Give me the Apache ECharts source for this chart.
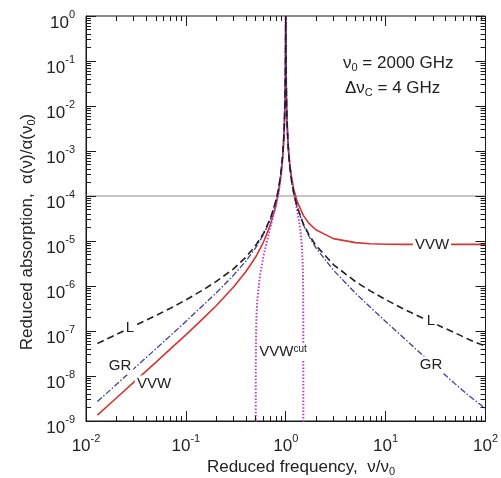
<!DOCTYPE html>
<html><head><meta charset="utf-8">
<script src="https://cdn.jsdelivr.net/npm/echarts@6/dist/echarts.min.js"></script>
<style>html,body{margin:0;padding:0;background:#fff}#c{width:501px;height:478px}</style>
</head><body><div id="c"></div>
<script>
// Reduced frequency samples (nu/nu0)
const freq = [0.013,0.02,0.03,0.05,0.07,0.1,0.15,0.2,0.3,0.4,0.5,0.6,0.7,0.8,0.85,0.9,0.93,0.95,0.97,0.98,0.99,0.995,0.998,0.999,1,1.001,1.002,1.005,1.01,1.02,1.03,1.05,1.07,1.1,1.15,1.2,1.3,1.5,1.7,2,3,5,7,10,15,20,30,50,70,100];
// L (Lorentz), black dashed
const lorentz = [5.3e-8,8.3e-8,1.28e-7,2.2e-7,3.2e-7,4.9e-7,8.3e-7,1.25e-6,2.4e-6,4.4e-6,8e-6,1.5e-5,3.1e-5,8e-5,1.5e-4,3.6e-4,7.6e-4,1.5e-3,4.3e-3,9.7e-3,0.038,0.137,0.5,0.8,1,0.8,0.5,0.139,0.039,0.0101,4.6e-3,1.68e-3,8.7e-4,4.4e-4,2.0e-4,1.2e-4,5.8e-5,2.4e-5,1.4e-5,8e-6,3e-6,1.25e-6,7.8e-7,5e-7,3.1e-7,2.3e-7,1.5e-7,9e-8,6.3e-8,4.6e-8];
// GR (Gross), blue dash-dot
const gross = [2.7e-9,6.4e-9,1.44e-8,4.0e-8,7.9e-8,1.63e-7,3.8e-7,6.9e-7,1.74e-6,3.6e-6,7.1e-6,1.4e-5,3.0e-5,7.9e-5,1.5e-4,3.6e-4,7.6e-4,1.5e-3,4.3e-3,9.7e-3,0.038,0.137,0.5,0.8,1,0.8,0.5,0.139,0.039,0.0101,4.55e-3,1.68e-3,8.7e-4,4.4e-4,2.0e-4,1.19e-4,5.7e-5,2.3e-5,1.29e-5,7.1e-6,2.25e-6,6.9e-7,3.4e-7,1.63e-7,7.2e-8,4.0e-8,1.8e-8,6.6e-9,3.5e-9,1.9e-9];
// VVW (Van Vleck - Weisskopf), red solid
const vvw = [1.35e-9,3.2e-9,7.2e-9,2.0e-8,4.0e-8,8.2e-8,1.93e-7,3.6e-7,9.5e-7,2.1e-6,4.4e-6,9.6e-6,2.25e-5,6.5e-5,1.29e-4,3.25e-4,7.1e-4,1.44e-3,4.2e-3,9.5e-3,0.0377,0.137,0.498,0.798,1,0.802,0.502,0.139,0.0392,0.0103,4.7e-3,1.76e-3,9.35e-4,4.85e-4,2.36e-4,1.45e-4,7.6e-5,3.7e-5,2.5e-5,1.78e-5,1.13e-5,9.2e-6,8.7e-6,8.5e-6,8.4e-6,8.4e-6,8.4e-6,8.4e-6,8.4e-6,8.4e-6];
// VVW with cut-off, magenta dotted
const cutFreq = [0.5,0.501,0.505,0.51,0.52,0.55,0.6,0.65,0.7,0.75,0.8,0.85,0.9,0.93,0.95,0.97,0.98,0.99,0.995,0.998,0.999,1,1.001,1.002,1.005,1.01,1.02,1.03,1.05,1.07,1.1,1.15,1.2,1.3,1.35,1.4,1.45,1.48,1.49,1.495,1.499,1.5];
const vvwCut = [1e-10,2e-8,1e-7,2.3e-7,5e-7,1.6e-6,4.8e-6,1.0e-5,2.0e-5,3.6e-5,6.2e-5,1.2e-4,3.1e-4,6.9e-4,1.42e-3,4.15e-3,9.5e-3,0.0377,0.137,0.498,0.798,1,0.802,0.502,0.139,0.0392,0.0103,4.7e-3,1.75e-3,9.2e-4,4.6e-4,2.15e-4,1.2e-4,4.8e-5,3.0e-5,1.75e-5,7.9e-6,3.0e-6,1.5e-6,7e-7,1.4e-7,1e-10];
const refLevel = 1e-4;
const xRange = [0.01, 100];
const yRange = [1e-9, 1];
const minorMultipliers = [2, 3, 4, 5, 6, 7, 8, 9];

const FONT = '"Liberation Sans", Arial, Helvetica, sans-serif';
const TXT = '#222';
const AX = '#1a1a1a';
const MAJOR_LEN = 10, MINOR_LEN = 5;
const GRID = { left: 86, right: 14, top: 16, bottom: 57 };
const W = 501, H = 478;
function pair(xs, ys) { return xs.map((x, i) => [x, ys[i]]); }
function expLabel(v) { return '{b|10}{s|' + Math.round(Math.log10(v)) + '}'; }
function decades(range) {
  const out = [];
  for (let e = Math.round(Math.log10(range[0])); e <= Math.round(Math.log10(range[1])); e++) out.push(Math.pow(10, e));
  return out;
}
function minorValues(range) {
  const out = [];
  const d = decades(range);
  for (let i = 0; i < d.length - 1; i++) minorMultipliers.forEach(k => out.push(k * d[i]));
  return out;
}

// frame tick segments (data units), tick length converted through the decade size of each axis
const xDecPx = (W - GRID.left - GRID.right) / Math.log10(xRange[1] / xRange[0]);
const yDecPx = (H - GRID.top - GRID.bottom) / Math.log10(yRange[1] / yRange[0]);
function tickSegments() {
  const segs = [];
  [[decades, MAJOR_LEN], [minorValues, MINOR_LEN]].forEach(([gen, len]) => {
    const fy = Math.pow(10, len / yDecPx), fx = Math.pow(10, len / xDecPx);
    gen(xRange).forEach(v => {
      segs.push({ coords: [[v, yRange[0]], [v, yRange[0] * fy]] });
      segs.push({ coords: [[v, yRange[1]], [v, yRange[1] / fy]] });
    });
    gen(yRange).forEach(v => {
      segs.push({ coords: [[xRange[0], v], [xRange[0] * fx, v]] });
      segs.push({ coords: [[xRange[1], v], [xRange[1] / fx, v]] });
    });
  });
  return segs;
}

function makeAxis(range, rich, margin) {
  return {
    type: 'log', min: range[0], max: range[1],
    axisLine: { show: true, lineStyle: { color: AX, width: 1 } },
    axisTick: { show: true, inside: true, length: MAJOR_LEN, lineStyle: { color: AX, width: 1 } },
    minorTick: { show: true, splitNumber: 9, length: MINOR_LEN, lineStyle: { color: AX, width: 1 } },
    splitLine: { show: true, lineStyle: { color: 'rgba(0,0,0,0)' } },
    axisLabel: { show: true, margin: margin, formatter: expLabel, color: TXT, fontFamily: FONT, fontSize: 17, rich: rich }
  };
}

const chart = echarts.init(document.getElementById('c'));
function txt(x, y, text, size, extra) {
  return Object.assign({
    type: 'text', x: x, y: y, z: 100,
    style: Object.assign({
      text: text, fontSize: size, fontFamily: FONT, fill: TXT,
      align: 'center', verticalAlign: 'middle',
      rich: {
        sub: { fontSize: Math.round(size * 0.65), fontFamily: FONT, fill: TXT, verticalAlign: 'bottom', padding: [10, 0, 0, 0] },
        sup: { fontSize: Math.round(size * 0.65), fontFamily: FONT, fill: TXT, verticalAlign: 'top', padding: [0, 0, 6, 0] }
      }
    }, extra || {})
  });
}
const bg = { backgroundColor: '#fff', padding: [1, 2] };
const texts = [
  txt(301, 467, 'Reduced frequency,  ν/ν{sub|0}', 17),
  Object.assign(txt(27, 232, 'Reduced absorption,  α(ν)/α(ν{sub|0})', 17), { rotation: Math.PI / 2 }),
  txt(343, 63, 'ν{sub|0} = 2000 GHz', 17, { align: 'left' }),
  txt(345, 88, 'Δν{sub|C} = 4 GHz', 17, { align: 'left' }),
  txt(130, 328, 'L', 15, bg),
  txt(120, 366, 'GR', 15, bg),
  txt(154, 384, 'VVW', 15, bg),
  txt(432, 245, 'VVW', 15, bg),
  txt(431, 321, 'L', 15, bg),
  txt(431, 365, 'GR', 15, bg),
  txt(283, 352, 'VVW{sup|cut}', 15, bg)
];

let errMsg = '';
try {
  chart.setOption({
    animation: false,
    grid: Object.assign({ show: true, borderColor: AX, borderWidth: 1, backgroundColor: 'rgba(0,0,0,0)' }, GRID),
    xAxis: makeAxis(xRange, {
      b: { fontSize: 17, fontFamily: FONT, color: TXT, padding: [5, 0, 0, 0] },
      s: { fontSize: 11, fontFamily: FONT, color: TXT, verticalAlign: 'top' }
    }, 12),
    yAxis: makeAxis(yRange, {
      b: { fontSize: 17, fontFamily: FONT, color: TXT, padding: [14, 0, 0, 0] },
      s: { fontSize: 11, fontFamily: FONT, color: TXT, verticalAlign: 'top', padding: [9, 0, 0, 0] }
    }, 11),
    series: [
      { type: 'line', data: [[xRange[0], refLevel], [xRange[1], refLevel]], symbol: 'none', silent: true,
        lineStyle: { color: '#8c8c8c', width: 1 }, z: 1 },
      { name: 'VVW', type: 'line', data: pair(freq, vvw), symbol: 'none',
        lineStyle: { color: '#d8342f', width: 1.6 }, z: 2 },
      { name: 'VVWcut', type: 'line', data: pair(cutFreq, vvwCut), symbol: 'none',
        lineStyle: { color: '#c33ac6', width: 2, type: [1.5, 1.8] }, z: 3 },
      { name: 'GR', type: 'line', data: pair(freq, gross), symbol: 'none',
        lineStyle: { color: '#3a3f9c', width: 1.3, type: [6, 2, 1.5, 2] }, z: 4 },
      { name: 'L', type: 'line', data: pair(freq, lorentz), symbol: 'none',
        lineStyle: { color: '#222', width: 1.6, type: [7, 4] }, z: 5 },
      { name: 'frameTicks', type: 'lines', coordinateSystem: 'cartesian2d', polyline: false, silent: true,
        data: tickSegments(), lineStyle: { color: AX, width: 1, opacity: 1, curveness: 0 }, z: 6 }
    ],
    graphic: texts
  });
} catch (e) { errMsg = String(e && e.message || e); }
if (errMsg) {
  try { chart.setOption({ graphic: texts.concat([{ type: 'text', x: 300, y: 5, z: 200, style: { text: errMsg.slice(0, 60), fontSize: 9, fill: '#c00' } }]) }); } catch (e2) {}
}
</script>
</body></html>
